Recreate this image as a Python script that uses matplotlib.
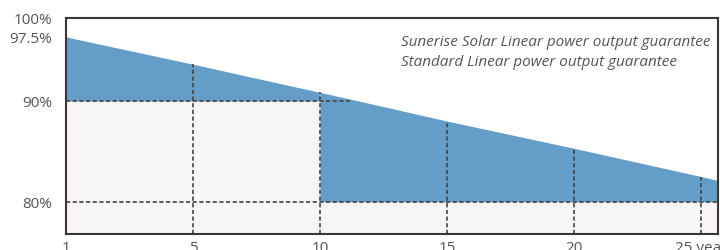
# power output guarantee chart
import matplotlib
matplotlib.use("Agg")
import matplotlib.pyplot as plt
import numpy as np

plt.rcParams["font.family"] = ["Open Sans", "DejaVu Sans"]

# data
x_line = [0, 5, 10, 11.5, 15, 20, 25, 25.67]
y_line = [97.5, 94.3, 91.0, 90.0, 88.0, 85.3, 82.5, 82.1]
x_ticks = [0, 5, 10, 15, 20, 25]
x_labels = ["1", "5", "10", "15", "20", "25 year"]
y_ticks = [80, 90, 97.5, 100]
y_labels = ["80%", "90%", "97.5%", "100%"]
legend_lines = ["Sunerise Solar Linear power output guarantee",
                "Standard Linear power output guarantee"]

blue = "#649ec8"
gray_bg = "#f7f5f6"
dash_col = "#444444"
frame_col = "#3d3535"

# piecewise y scale (the picture is not linear in %)
vals = [70, 80, 90, 97.5, 100]
pos = [-1, 0, 1, 1.634, 1.822]
def fwd(v):
    return np.interp(v, vals, pos)
def inv(p):
    return np.interp(p, pos, vals)

fig = plt.figure(figsize=(7.2, 2.51), dpi=100)
ax = fig.add_axes([66/720, 16/251, 652/720, 216/251])
ax.set_yscale("function", functions=(fwd, inv))
ax.set_xlim(0, 25.67)
ax.set_ylim(76.8, 100)

xl = np.array(x_line)
yl = np.array(y_line)

# gray under the line, blue band above the guarantee level
ax.fill_between(xl, 76.8, yl, color=gray_bg, lw=0, zorder=1)
ax.fill_between(xl[xl <= 10], 90, yl[xl <= 10], color=blue, lw=0, zorder=2)
ax.fill_between(xl[xl >= 10], 80, yl[xl >= 10], color=blue, lw=0, zorder=2)

dash = dict(color=dash_col, lw=1.2, ls=(0, (2.5, 1.5)), zorder=3)
ax.plot([0, 11.2], [90, 90], **dash)
ax.plot([0, 25.67], [80, 80], **dash)
for xt in x_ticks[1:]:
    ax.plot([xt, xt], [76.8, np.interp(xt, xl, yl)], **dash)

for s in ax.spines.values():
    s.set_color(frame_col)
    s.set_linewidth(1.5)
    s.set_zorder(5)

ax.set_xticks(x_ticks)
ax.set_xticklabels(x_labels)
ax.set_yticks(y_ticks)
ax.set_yticklabels(y_labels)
ax.tick_params(length=0, labelsize=11, labelcolor="#555555")
ax.tick_params(axis="y", pad=10)
ax.tick_params(axis="x", pad=4)
ax.minorticks_off()

for i, t in enumerate(legend_lines):
    ax.text(0.514, 0.876 - 0.093 * i, t, transform=ax.transAxes,
            fontsize=11, style="italic", color="#555555", va="baseline")

fig.savefig("out.png", dpi=100)
